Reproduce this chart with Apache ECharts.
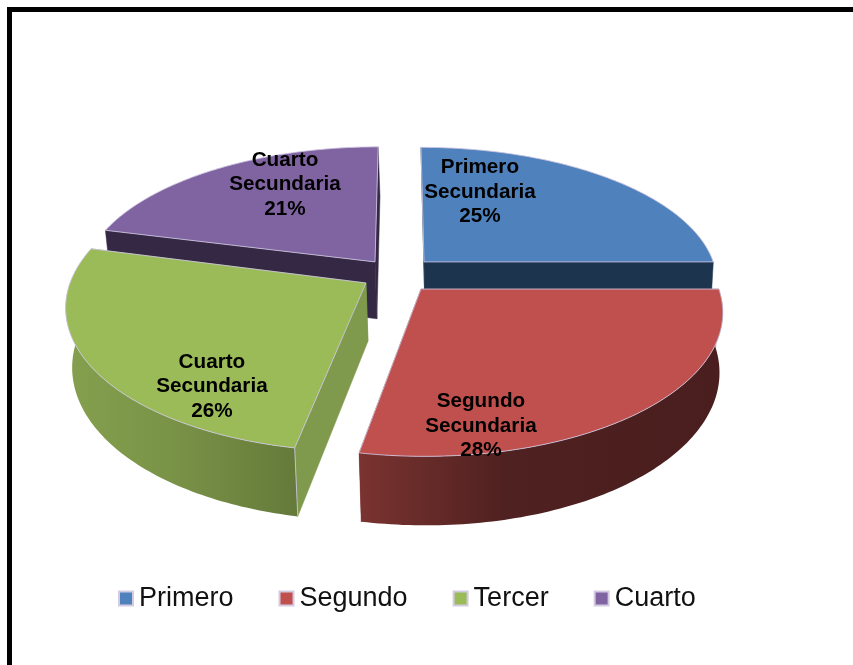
<!DOCTYPE html>
<html><head><meta charset="utf-8">
<style>html,body{margin:0;padding:0;background:#fff}#c{width:853px;height:665px}</style>
<script src="https://cdn.jsdelivr.net/npm/echarts@6/dist/echarts.min.js"></script>
</head><body><div id="c"></div>
<script>
const categories = ['Primero', 'Segundo', 'Tercer', 'Cuarto'];
const sliceValues = [25, 28, 26, 21];
const sliceTitles = [
  ['Primero', 'Secundaria'],
  ['Segundo', 'Secundaria'],
  ['Cuarto', 'Secundaria'],
  ['Cuarto', 'Secundaria']
];

const topColors = ['#4f81bd', '#c0504d', '#9bbb59', '#8064a2'];
const cutColors = ['#1d344f', '#7a3330', '#7f9a4c', '#352845'];
const wallStops = [
  ['#1d344f', '#1d344f', '#1d344f'],
  ['#7a3330', '#4f2120', '#4a1e1e'],
  ['#84a04e', '#7b9548', '#657a3a'],
  ['#352845', '#352845', '#352845']
];
/* exploded offset of each slice's apex, depth stretch, and label offset, in disc units */
const explode = [[0.083, -0.134], [0.0705, 0.065], [-0.115, 0.0216], [-0.0864, -0.134]];
const stretchY = [0.99, 1.012, 1.03, 0.995];
const labelAt = [[0.217, -0.59], [0.167, 0.841], [-0.458, 0.663], [-0.349, -0.653]];
const drawOrder = [3, 0, 2, 1];

/* perspective projection of the tilted disc */
const VX = 400, VY = -650, RX = 295, PERSP = 0.148, K = 930, DEPTH = 58, LOW_VX = 500, SHRINK = 0.015;
function project(X, Y, low) {
  const s = 1 / (1 - PERSP * Y);
  const x = VX + RX * X * s;
  return low ? [LOW_VX + (x - LOW_VX) * (1 - SHRINK), VY + (K + DEPTH) * s]
             : [x, VY + K * s];
}
const total = sliceValues.reduce((a, b) => a + b, 0);
const startAngles = [];
sliceValues.reduce((acc, v, i) => { startAngles[i] = acc; return acc + v / total * 360; }, 0);

function rimPoint(i, deg, low) {
  const t = deg * Math.PI / 180, o = explode[i];
  return project(o[0] + Math.sin(t), o[1] - Math.cos(t) * stretchY[i], low);
}
function arc(i, from, to, low) {
  const pts = [], n = Math.max(2, Math.ceil(Math.abs(to - from)));
  for (let k = 0; k <= n; k++) pts.push(rimPoint(i, from + (to - from) * k / n, low));
  return pts;
}
const EDGE = 'rgba(205,198,225,0.85)';
function renderSlice(i) {
  return function (params, api) {
    const value = api.value(0);
    const a0 = startAngles[i], a1 = a0 + value / total * 360;
    const o = explode[i];
    const apexT = project(o[0], o[1], false), apexB = project(o[0], o[1], true);
    const children = [];
    [a0, a1].forEach(function (a) {
      children.push({ type: 'polygon',
        shape: { points: [apexT, rimPoint(i, a, false), rimPoint(i, a, true), apexB] },
        style: { fill: cutColors[i], stroke: cutColors[i], lineWidth: 0.5 } });
    });
    const w0 = Math.max(a0, 90), w1 = Math.min(a1, 270);
    if (w1 > w0) {
      const stops = wallStops[i];
      children.push({ type: 'polygon',
        shape: { points: arc(i, w0, w1, false).concat(arc(i, w1, w0, true)) },
        style: { fill: new echarts.graphic.LinearGradient(0, 0, 1, 0, [
          { offset: 0, color: stops[0] }, { offset: 0.4, color: stops[1] }, { offset: 1, color: stops[2] }
        ]) } });
      children.push({ type: 'polyline',
        shape: { points: [rimPoint(i, a0, false), rimPoint(i, a0, true)] },
        style: { fill: 'none', stroke: EDGE, lineWidth: 1 } });
    }
    children.push({ type: 'polygon',
      shape: { points: [apexT].concat(arc(i, a0, a1, false)) },
      style: { fill: topColors[i], stroke: EDGE, lineWidth: 1 } });
    const lp = project(o[0] + labelAt[i][0], o[1] + labelAt[i][1], false);
    children.push({ type: 'text', x: lp[0], y: lp[1] + 1.8,
      style: { text: sliceTitles[i].concat([value + '%']).join('\n'),
        font: 'bold 20.7px "Liberation Sans", Arial, sans-serif', lineHeight: 24.5,
        fill: '#000', align: 'center', verticalAlign: 'middle' } });
    return { type: 'group', children: children };
  };
}

const chart = echarts.init(document.getElementById('c'), null, { renderer: 'canvas' });
const byOrder = drawOrder.map(function (i, z) {
  return { type: 'custom', name: categories[i], coordinateSystem: 'none', z: 2 + z,
    animation: false, silent: true,
    itemStyle: { color: topColors[i] },
    data: [[sliceValues[i]]], renderItem: renderSlice(i) };
});
chart.setOption({
  backgroundColor: '#fff',
  animation: false,
  legend: {
    data: categories, left: 113, top: 580, icon: 'rect', itemWidth: 14, itemHeight: 14, itemGap: 45,
    selectedMode: false,
    itemStyle: { borderColor: '#d4cbe3', borderWidth: 2 },
    textStyle: { fontFamily: '"Liberation Sans", Arial, sans-serif', fontSize: 27, color: '#111', padding: [0, 0, 0, 1] }
  },
  graphic: [
    { type: 'rect', shape: { x: 7, y: 7, width: 846, height: 5 }, style: { fill: '#000' }, silent: true },
    { type: 'rect', shape: { x: 7, y: 7, width: 5, height: 658 }, style: { fill: '#000' }, silent: true }
  ],
  series: byOrder
});
</script></body></html>
